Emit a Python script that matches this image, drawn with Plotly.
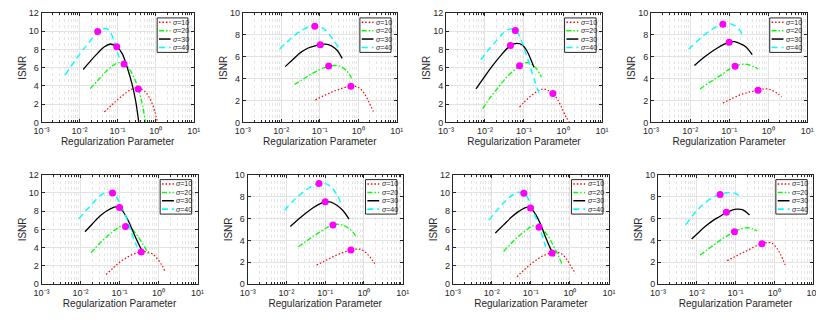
import plotly.graph_objects as go

# ---------------- data ----------------
series_labels = ["σ=10", "σ=20", "σ=30", "σ=40"]
x_tick_vals = [0.001, 0.01, 0.1, 1, 10]
x_tick_text = ["10⁻³", "10⁻²", "10⁻¹", "10⁰", "10¹"]

# Panel 1
p1_s10_x = [0.045, 0.07, 0.1, 0.15, 0.22, 0.3, 0.4, 0.55, 0.75, 0.95, 1.12]
p1_s10_y = [1.15, 1.9, 2.5, 3.1, 3.6, 3.78, 3.7, 3.3, 2.4, 1.2, 0.0]
p1_s20_x = [0.019, 0.03, 0.05, 0.08, 0.11, 0.15, 0.2, 0.27, 0.35, 0.45, 0.54]
p1_s20_y = [3.7, 4.6, 5.6, 6.3, 6.55, 6.4, 5.9, 4.9, 3.7, 1.9, 0.0]
p1_s30_x = [0.0125, 0.02, 0.03, 0.045, 0.065, 0.095, 0.13, 0.18, 0.24, 0.3, 0.36]
p1_s30_y = [5.8, 6.8, 7.6, 8.3, 8.6, 8.3, 7.6, 6.0, 4.2, 2.3, 0.0]
p1_s40_x = [0.0042, 0.008, 0.015, 0.025, 0.035, 0.048, 0.062, 0.08, 0.1, 0.12]
p1_s40_y = [5.2, 6.9, 8.4, 9.5, 10.1, 10.3, 10.0, 9.0, 7.6, 6.8]
p1_peak_x = [0.35, 0.148, 0.095, 0.030]
p1_peak_y = [3.67, 6.4, 8.3, 9.97]

# Panel 2
p2_s10_x = [0.077, 0.12, 0.2, 0.3, 0.45, 0.64, 0.85, 1.1, 1.4, 1.8, 2.45]
p2_s10_y = [2.06, 2.4, 2.75, 3.0, 3.2, 3.3, 3.3, 3.1, 2.7, 2.0, 1.0]
p2_s20_x = [0.022, 0.035, 0.055, 0.085, 0.12, 0.17, 0.25, 0.35, 0.5, 0.67]
p2_s20_y = [3.46, 3.9, 4.35, 4.7, 4.95, 5.15, 5.2, 5.1, 4.7, 4.04]
p2_s30_x = [0.0126, 0.02, 0.032, 0.05, 0.075, 0.1, 0.14, 0.2, 0.28, 0.38]
p2_s30_y = [5.1, 5.75, 6.4, 6.8, 7.0, 7.1, 7.15, 7.0, 6.6, 5.85]
p2_s40_x = [0.0091, 0.018, 0.03, 0.05, 0.075, 0.11, 0.16, 0.23, 0.31]
p2_s40_y = [6.7, 7.7, 8.3, 8.7, 8.8, 8.7, 8.2, 7.5, 6.8]
p2_peak_x = [0.64, 0.17, 0.103, 0.074]
p2_peak_y = [3.3, 5.15, 7.1, 8.78]

# Panel 3
p3_s10_x = [0.077, 0.1, 0.14, 0.2, 0.3, 0.4, 0.55, 0.75, 1.0, 1.2, 1.45]
p3_s10_y = [1.68, 2.2, 2.8, 3.3, 3.65, 3.55, 3.18, 2.4, 1.3, 0.6, 0.0]
p3_s20_x = [0.0087, 0.014, 0.023, 0.035, 0.055, 0.077, 0.1, 0.13, 0.17, 0.22, 0.28]
p3_s20_y = [1.5, 2.8, 3.95, 4.9, 5.7, 6.22, 6.5, 6.55, 6.3, 5.75, 5.0]
p3_s30_x = [0.0059, 0.009, 0.0155, 0.025, 0.045, 0.066, 0.09, 0.12, 0.15, 0.18]
p3_s30_y = [3.67, 4.8, 6.2, 7.3, 8.43, 8.67, 8.5, 7.8, 6.9, 6.05]
p3_s40_x = [0.0079, 0.012, 0.02, 0.03, 0.045, 0.06, 0.08, 0.107, 0.14, 0.19, 0.26]
p3_s40_y = [6.85, 7.9, 9.0, 9.8, 10.25, 10.1, 9.3, 7.8, 6.3, 4.5, 2.9]
p3_peak_x = [0.55, 0.077, 0.045, 0.06]
p3_peak_y = [3.18, 6.22, 8.43, 10.07]

# Panel 4
p4_s10_x = [0.069, 0.1, 0.15, 0.22, 0.35, 0.55, 0.75, 1.0, 1.4, 1.8, 2.2]
p4_s10_y = [1.78, 2.05, 2.35, 2.6, 2.8, 2.95, 3.05, 3.05, 2.85, 2.6, 2.33]
p4_s20_x = [0.018, 0.028, 0.045, 0.07, 0.1, 0.142, 0.19, 0.24, 0.33, 0.45, 0.55]
p4_s20_y = [3.06, 3.55, 4.0, 4.45, 4.85, 5.13, 5.28, 5.33, 5.25, 5.05, 4.9]
p4_s30_x = [0.0129, 0.02, 0.032, 0.05, 0.075, 0.1, 0.135, 0.19, 0.27, 0.39]
p4_s30_y = [5.2, 5.8, 6.35, 6.8, 7.15, 7.32, 7.38, 7.2, 6.9, 6.2]
p4_s40_x = [0.0092, 0.015, 0.025, 0.04, 0.069, 0.093, 0.13, 0.18, 0.24]
p4_s40_y = [6.7, 7.4, 8.1, 8.6, 8.98, 9.07, 8.9, 8.5, 7.8]
p4_peak_x = [0.55, 0.142, 0.10, 0.069]
p4_peak_y = [2.95, 5.13, 7.32, 8.98]

# Panel 5
p5_s10_x = [0.045, 0.07, 0.1, 0.15, 0.23, 0.37, 0.55, 0.75, 1.0, 1.25, 1.45]
p5_s10_y = [1.06, 1.8, 2.4, 2.9, 3.3, 3.55, 3.5, 3.2, 2.6, 2.0, 1.41]
p5_s20_x = [0.0186, 0.03, 0.05, 0.08, 0.118, 0.142, 0.2, 0.31, 0.42, 0.55]
p5_s20_y = [3.42, 4.4, 5.3, 6.0, 6.42, 6.35, 6.1, 5.1, 4.2, 3.35]
p5_s30_x = [0.013, 0.02, 0.032, 0.05, 0.08, 0.1, 0.13, 0.17, 0.23, 0.3, 0.39]
p5_s30_y = [5.75, 6.6, 7.5, 8.1, 8.47, 8.4, 7.8, 6.9, 5.6, 4.5, 3.53]
p5_s40_x = [0.0091, 0.014, 0.022, 0.032, 0.045, 0.066, 0.085, 0.107, 0.14, 0.2, 0.28]
p5_s40_y = [7.17, 8.1, 9.0, 9.7, 10.06, 9.99, 9.5, 8.65, 7.6, 5.7, 4.06]
p5_peak_x = [0.36, 0.142, 0.1, 0.066]
p5_peak_y = [3.53, 6.32, 8.4, 9.99]

# Panel 6
p6_s10_x = [0.06, 0.09, 0.14, 0.21, 0.32, 0.46, 0.63, 0.85, 1.1, 1.45, 1.9]
p6_s10_y = [1.74, 2.05, 2.4, 2.7, 2.95, 3.12, 3.2, 3.15, 2.9, 2.45, 1.88]
p6_s20_x = [0.0204, 0.032, 0.05, 0.08, 0.115, 0.158, 0.2, 0.28, 0.4, 0.52, 0.63]
p6_s20_y = [3.41, 3.9, 4.4, 4.85, 5.2, 5.41, 5.47, 5.4, 5.1, 4.75, 4.32]
p6_s30_x = [0.0126, 0.02, 0.032, 0.05, 0.075, 0.1, 0.14, 0.2, 0.29, 0.41]
p6_s30_y = [5.26, 5.9, 6.5, 7.0, 7.35, 7.53, 7.5, 7.2, 6.7, 5.94]
p6_s40_x = [0.0089, 0.014, 0.022, 0.035, 0.05, 0.069, 0.09, 0.13, 0.19, 0.27]
p6_s40_y = [6.74, 7.5, 8.15, 8.7, 9.05, 9.2, 9.22, 9.0, 8.3, 7.18]
p6_peak_x = [0.46, 0.158, 0.1, 0.069]
p6_peak_y = [3.12, 5.41, 7.53, 9.2]

# Panel 7
p7_s10_x = [0.044, 0.065, 0.1, 0.15, 0.23, 0.35, 0.45, 0.6, 0.8, 1.05, 1.4]
p7_s10_y = [0.81, 1.5, 2.2, 2.75, 3.2, 3.45, 3.5, 3.35, 2.8, 2.0, 1.16]
p7_s20_x = [0.02, 0.032, 0.05, 0.08, 0.112, 0.162, 0.22, 0.3, 0.4, 0.52, 0.64]
p7_s20_y = [3.58, 4.5, 5.3, 6.0, 6.39, 6.25, 5.8, 5.0, 4.0, 3.0, 2.1]
p7_s30_x = [0.0123, 0.02, 0.032, 0.05, 0.078, 0.098, 0.13, 0.18, 0.24, 0.31, 0.40]
p7_s30_y = [5.61, 6.5, 7.35, 8.0, 8.42, 8.35, 7.7, 6.5, 5.1, 4.0, 3.05]
p7_s40_x = [0.0084, 0.013, 0.02, 0.03, 0.045, 0.066, 0.085, 0.11, 0.14, 0.18, 0.24]
p7_s40_y = [7.02, 8.0, 8.9, 9.6, 10.05, 9.96, 9.4, 8.25, 7.1, 5.8, 4.1]
p7_peak_x = [0.35, 0.162, 0.098, 0.066]
p7_peak_y = [3.4, 6.25, 8.35, 9.96]

# Panel 8
p8_s10_x = [0.061, 0.09, 0.14, 0.21, 0.32, 0.48, 0.65, 0.85, 1.1, 1.45, 1.9]
p8_s10_y = [2.15, 2.45, 2.8, 3.1, 3.45, 3.68, 3.8, 3.75, 3.4, 2.7, 1.76]
p8_s20_x = [0.0123, 0.018, 0.027, 0.04, 0.06, 0.094, 0.14, 0.2, 0.28, 0.36]
p8_s20_y = [2.65, 3.1, 3.55, 4.0, 4.4, 4.79, 5.05, 5.15, 5.05, 4.85]
p8_s30_x = [0.0074, 0.011, 0.017, 0.026, 0.04, 0.058, 0.08, 0.108, 0.15, 0.23]
p8_s30_y = [4.12, 4.7, 5.3, 5.8, 6.2, 6.56, 6.75, 6.85, 6.8, 6.32]
p8_s40_x = [0.0053, 0.008, 0.012, 0.018, 0.027, 0.04, 0.06, 0.085, 0.11, 0.145]
p8_s40_y = [5.44, 6.3, 7.0, 7.55, 7.95, 8.2, 8.35, 8.38, 8.2, 7.8]
p8_peak_x = [0.48, 0.094, 0.058, 0.04]
p8_peak_y = [3.68, 4.79, 6.56, 8.2]

y_max = [12, 10, 12, 10, 12, 10, 12, 10]

panels = [
    [(p1_s10_x, p1_s10_y), (p1_s20_x, p1_s20_y), (p1_s30_x, p1_s30_y), (p1_s40_x, p1_s40_y), (p1_peak_x, p1_peak_y)],
    [(p2_s10_x, p2_s10_y), (p2_s20_x, p2_s20_y), (p2_s30_x, p2_s30_y), (p2_s40_x, p2_s40_y), (p2_peak_x, p2_peak_y)],
    [(p3_s10_x, p3_s10_y), (p3_s20_x, p3_s20_y), (p3_s30_x, p3_s30_y), (p3_s40_x, p3_s40_y), (p3_peak_x, p3_peak_y)],
    [(p4_s10_x, p4_s10_y), (p4_s20_x, p4_s20_y), (p4_s30_x, p4_s30_y), (p4_s40_x, p4_s40_y), (p4_peak_x, p4_peak_y)],
    [(p5_s10_x, p5_s10_y), (p5_s20_x, p5_s20_y), (p5_s30_x, p5_s30_y), (p5_s40_x, p5_s40_y), (p5_peak_x, p5_peak_y)],
    [(p6_s10_x, p6_s10_y), (p6_s20_x, p6_s20_y), (p6_s30_x, p6_s30_y), (p6_s40_x, p6_s40_y), (p6_peak_x, p6_peak_y)],
    [(p7_s10_x, p7_s10_y), (p7_s20_x, p7_s20_y), (p7_s30_x, p7_s30_y), (p7_s40_x, p7_s40_y), (p7_peak_x, p7_peak_y)],
    [(p8_s10_x, p8_s10_y), (p8_s20_x, p8_s20_y), (p8_s30_x, p8_s30_y), (p8_s40_x, p8_s40_y), (p8_peak_x, p8_peak_y)],
]

# ---------------- styling ----------------
PAGE_OFF = 8                      # browser body margin
W, H = 824 - PAGE_OFF, 323 - PAGE_OFF
FONT = "Liberation Sans, Arial, Helvetica, sans-serif"
AX = "#262626"
colors = ["#ff0000", "#00ff00", "#000000", "#00ffff"]
dashes = ["1.5px,2px", "5px,2px,1.5px,2px", "solid", "6px,4px"]
widths = [1.2, 1.3, 1.3, 1.4]

# page-pixel boxes of each axes (left, right, top, bottom)
boxes = [(34, 189, 8, 121), (239, 396, 8, 121), (446, 605, 8, 121), (655, 814, 8, 121),
         (34, 193, 175, 288), (244, 402, 175, 288), (453, 612, 175, 288), (662, 820, 175, 288)]

fig = go.Figure()
layout = dict(width=W, height=H, margin=dict(l=0, r=0, t=0, b=0),
              paper_bgcolor="white", plot_bgcolor="white", showlegend=False,
              font=dict(family=FONT, color=AX))
shapes, annotations = [], []

for i, (panel, box) in enumerate(zip(panels, boxes)):
    n = "" if i == 0 else str(i + 1)
    xa, ya = "x" + n, "y" + n
    l, r, t, b = [v - PAGE_OFF for v in box]
    layout["xaxis" + n] = dict(
        type="log", range=[-3, 1], domain=[max(0, l / W), min(1, r / W)], anchor=ya,
        tickvals=x_tick_vals, ticktext=x_tick_text,
        ticks="inside", ticklen=3, tickcolor=AX, mirror="ticks",
        showline=True, linecolor=AX, linewidth=1,
        showgrid=True, gridcolor="#e3e3e3", gridwidth=1,
        minor=dict(ticks="inside", ticklen=2, tickcolor=AX, showgrid=True,
                   gridcolor="#e6e6e6", griddash="dot", dtick="D1"),
        tickfont=dict(size=9, family=FONT, color=AX),
        title=dict(text="Regularization Parameter", font=dict(size=10, family=FONT, color=AX), standoff=0),
        zeroline=False, fixedrange=True,
    )
    layout["yaxis" + n] = dict(
        range=[0, y_max[i]], dtick=2, domain=[max(0, 1 - b / H), min(1, 1 - t / H)], anchor=xa,
        ticks="inside", ticklen=3, tickcolor=AX, mirror="ticks",
        showline=True, linecolor=AX, linewidth=1,
        showgrid=True, gridcolor="#e3e3e3", gridwidth=1,
        tickfont=dict(size=9, family=FONT, color=AX),
        title=dict(text="ISNR", font=dict(size=10, family=FONT, color=AX), standoff=0),
        zeroline=False, fixedrange=True,
    )
    for k in range(4):
        sx, sy = panel[k]
        fig.add_trace(go.Scatter(
            x=sx, y=sy, mode="lines", name=series_labels[k], xaxis=xa, yaxis=ya,
            line=dict(color=colors[k], width=widths[k], dash=dashes[k], shape="spline", smoothing=1.0),
            hoverinfo="skip"))
    px_, py_ = panel[4]
    fig.add_trace(go.Scatter(
        x=px_, y=py_, mode="markers", name="optimum", xaxis=xa, yaxis=ya,
        marker=dict(color="#ff00ff", size=7, line=dict(width=0)), hoverinfo="skip"))

    # legend box (relative to the axes domain)
    xd, yd = xa + " domain", ya + " domain"
    shapes.append(dict(type="rect", xref=xd, yref=yd, x0=0.76, x1=0.962, y0=0.64, y1=0.955,
                       line=dict(color=AX, width=1), fillcolor="white", layer="above"))
    rows = [0.915, 0.838, 0.762, 0.685]
    for k in range(4):
        shapes.append(dict(type="line", xref=xd, yref=yd, x0=0.772, x1=0.848, y0=rows[k], y1=rows[k],
                           line=dict(color=colors[k], width=widths[k] + 0.2, dash=dashes[k]), layer="above"))
        annotations.append(dict(xref=xd, yref=yd, x=0.852, y=rows[k], xanchor="left", yanchor="middle",
                                text="<i>σ</i>=" + series_labels[k].split("=")[1], showarrow=False,
                                font=dict(size=7, family=FONT, color=AX)))

layout["shapes"] = shapes
layout["annotations"] = annotations
fig.update_layout(**layout)
fig.write_html("out.html")
